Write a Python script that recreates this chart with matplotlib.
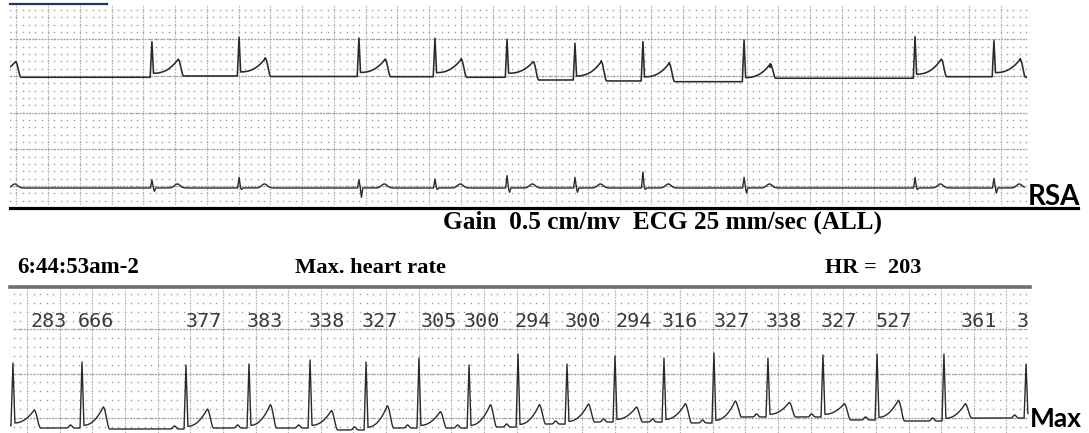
import numpy as np
import matplotlib
matplotlib.use('Agg')
import matplotlib.pyplot as plt
from matplotlib.lines import Line2D

W, H = 1089, 433

# ---- values: time in s, height in mm of chart paper ----
# RSA strip (two channels share the same beats)
rsa_beats = [-0.13, 0.894, 1.443, 2.198, 2.677, 3.131, 3.559, 3.987, 4.624, 5.701, 6.198]
rsa1_r_peak = [21.7, 21.68, 22.28, 22.18, 22.14, 22.0, 21.46, 21.68, 21.91, 22.36, 21.81]
rsa1_t_peak = [18.95, 19.28, 19.41, 19.28, 19.28, 18.95, 18.95, 18.73, 18.64, 19.28, 19.28]
# baseline before the first beat, then after each beat
rsa1_base = [16.82, 16.82, 17.0, 16.93, 16.90, 16.82, 16.45, 16.32, 16.22, 16.69, 16.90, 16.82]
rsa2_up = [1.2, 1.12, 1.45, 1.12, 1.23, 1.69, 1.45, 2.18, 1.45, 1.45, 1.31]
rsa2_down = [0.4, 0.45, 0.2, 1.26, 0.2, 0.59, 0.59, 0.2, 0.68, 0.2, 0.68]
rsa2_base = 1.72
rsa2_t = 0.55

# Max heart rate strip
max_beats = [0.018, 0.441, 1.078, 1.464, 1.838, 2.181, 2.505, 2.812, 3.112, 3.412,
             3.706, 4.006, 4.312, 4.643, 4.980, 5.311, 5.721, 6.224]
max_r_peak = [7.19, 7.31, 6.97, 7.08, 7.53, 7.31, 7.76, 6.97, 8.21, 7.08,
              7.99, 7.76, 8.33, 7.76, 8.1, 8.21, 8.21, 7.08]
max_t_peak = [1.88, 2.22, 1.99, 2.48, 1.81, 2.35, 1.69, 2.48, 2.48, 2.56,
              2.22, 2.59, 2.9, 2.75, 2.59, 2.99, 2.59, 2.5]
max_base = [0.11, -0.16, -0.27, -0.16, -0.16, -0.38, -0.16, -0.16, -0.05, 0.29,
            0.52, 0.52, 0.41, 1.09, 1.09, 0.75, 0.63, 0.97, 0.97]

rr_labels = ['283', '666', '377', '383', '338', '327', '305', '300', '294', '300',
             '294', '316', '327', '338', '327', '527', '361', '3']
rr_label_t = [0.126, 0.414, 1.078, 1.452, 1.832, 2.153, 2.515, 2.781, 3.093, 3.400,
              3.706, 3.994, 4.312, 4.631, 4.968, 5.305, 5.826, 6.168]

TRACE = '#2a2a2a'


def fx(px):
    return px / W


def fy(py):
    return 1 - py / H


def tri(dt, c, half):
    return np.clip(1 - np.abs(dt - c) / half, 0, None)


def step_base(t, beats, levels, shift):
    idx = np.searchsorted(np.array(beats) + shift, t)
    return np.array(levels)[idx]


def paper(ax, cols, rows, col_major, row_major):
    tt, yy = np.meshgrid(cols, rows)
    ax.plot(tt.ravel(), yy.ravel(), ls='none', marker='s', ms=1.0, mew=0, color='#9a9a9a')
    y0, y1 = ax.get_ylim()
    ax.vlines(cols[col_major], y0, y1, colors='#b4b4b4', lw=0.8, linestyles=(0, (1.5, 1.2)))
    ax.hlines(rows[row_major], cols[0], cols[-1], colors='#a0a0a0', lw=0.9, linestyles=(0, (1.5, 1.0)))


fig = plt.figure(figsize=(W / 100, H / 100), dpi=100)

# ---------------- RSA strip ----------------
ax1 = fig.add_axes([fx(10), fy(205), 1017 / W, 200 / H])
ax1.set_xlim(0, 1017 / 158.75)
ax1.set_ylim(-0.6, 26.68)
ax1.set_axis_off()
k = np.arange(0, 161)
cols = 0.04 * k
rows = np.arange(0, 27)
paper(ax1, cols, rows, (k - 1) % 5 == 0, rows % 5 == 2)

t = np.arange(0, 6.405, 0.001)
tpk = 0.165
sig1 = step_base(t, rsa_beats, rsa1_base, tpk)
for i, tr in enumerate(rsa_beats):
    bb, ba = rsa1_base[i], rsa1_base[i + 1]
    dt = t - tr
    r = (rsa1_r_peak[i] - bb) * tri(dt, 0, 0.011)
    stt = np.zeros_like(t)
    m1 = (dt > 0.004) & (dt <= tpk)
    stt[m1] = 0.55 + (rsa1_t_peak[i] - bb - 0.55) * ((dt[m1] - 0.004) / (tpk - 0.004)) ** 2.5
    m2 = (dt > tpk) & (dt < tpk + 0.035)
    stt[m2] = (rsa1_t_peak[i] - ba) * (1 + np.cos(np.pi * (dt[m2] - tpk) / 0.035)) / 2
    sig1 += np.maximum(r, stt)
ax1.plot(t, sig1, color=TRACE, lw=1.15)

sig2 = np.full_like(t, rsa2_base)
for i, tr in enumerate(rsa_beats):
    dt = t - tr
    sig2 += rsa2_up[i] * tri(dt, 0, 0.009) - rsa2_down[i] * tri(dt, 0.016, 0.008)
    sig2 += rsa2_t * np.exp(-((dt - 0.16) / 0.025) ** 2)
ax1.plot(t[t < 6.39], sig2[t < 6.39], color=TRACE, lw=1.0)

# ---------------- Max heart rate strip ----------------
ax2 = fig.add_axes([fx(10), fy(433), 1020 / W, 145 / H])
ax2.set_xlim(0, 1020 / 163.25)
ax2.set_ylim(-0.72, 15.68)
ax2.set_axis_off()
k = np.arange(0, 156)
cols = 0.024 + 0.04 * k
rows = np.arange(-1, 16)
paper(ax2, cols, rows, (k - 2) % 5 == 0, rows % 5 == 1)

t = np.arange(0, 6.236, 0.001)
tpk = 0.13
sig3 = step_base(t, max_beats, max_base, tpk)
for i, tr in enumerate(max_beats):
    bb, ba = max_base[i], max_base[i + 1]
    dt = t - tr
    r = (max_r_peak[i] - bb) * tri(dt, 0, 0.012)
    stt = np.zeros_like(t)
    m1 = (dt > 0.006) & (dt <= tpk)
    stt[m1] = 0.3 + (max_t_peak[i] - bb - 0.3) * ((dt[m1] - 0.006) / (tpk - 0.006)) ** 2.2
    m2 = (dt > tpk) & (dt < tpk + 0.04)
    stt[m2] = (max_t_peak[i] - ba) * (1 + np.cos(np.pi * (dt[m2] - tpk) / 0.04)) / 2
    p = 0.35 * np.exp(-((dt + 0.07) / 0.012) ** 2)
    sig3 += np.maximum(np.maximum(r, stt), p)
ax2.plot(t, sig3, color=TRACE, lw=1.0)

for lab, tl in zip(rr_labels, rr_label_t):
    ax2.text(tl, 11.27, lab, family='DejaVu Sans Mono', fontsize=14.5,
             color='#3a3a3a', ha='left', va='baseline', clip_on=True)

# ---------------- rules and labels ----------------
fig.add_artist(Line2D([fx(10), fx(107)], [fy(3.5)] * 2, color='#1f3864', lw=1.6))
fig.add_artist(Line2D([fx(10), fx(1078)], [fy(208)] * 2, color='black', lw=2.3))
fig.add_artist(Line2D([fx(10), fx(1030)], [fy(286.5)] * 2, color='#707070', lw=2.6))

fig.text(fx(1028), fy(205), 'RSA', family='Lato', weight='bold', fontsize=20, va='baseline')
fig.text(fx(1030), fy(427), 'Max', family='Lato', weight='bold', fontsize=19, va='baseline')

serif = 'Liberation Serif'
fig.text(fx(443), fy(229), 'Gain  0.5 cm/mv  ECG 25 mm/sec (ALL)', family=serif,
         weight='bold', fontsize=18.2, va='baseline')
fig.text(fx(17), fy(273), '6:44:53am-2', family=serif, weight='bold', fontsize=16.5, va='baseline')
fig.text(fx(295), fy(273), 'Max. heart rate', family=serif, weight='bold', fontsize=16.2, va='baseline')
fig.text(fx(825), fy(273), 'HR =  203', family=serif, weight='bold', fontsize=16, va='baseline')

fig.savefig('out.png', dpi=100)
